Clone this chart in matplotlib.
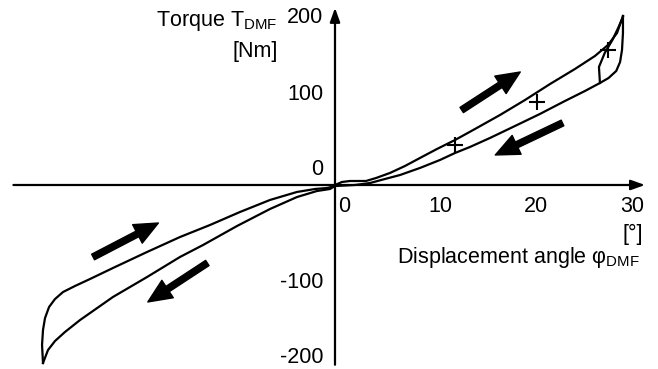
import numpy as np
import matplotlib
matplotlib.use("Agg")
import matplotlib.pyplot as plt

plt.rcParams['font.family'] = ['Liberation Sans', 'DejaVu Sans']
plt.rcParams['mathtext.fontset'] = 'custom'
plt.rcParams['mathtext.rm'] = 'Liberation Sans'

# displacement angle [deg] / torque [Nm]
pos_load_x = [0.0, 0.73, 1.56, 3.23, 4.27, 5.73, 7.29, 8.85, 10.63, 12.5, 14.58, 17.19,
              19.79, 22.4, 25.0, 27.08, 28.44, 29.38, 30.0]
pos_load_y = [0.0, 3.5, 4.65, 4.65, 8.1, 14.0, 22.1, 31.4, 41.9, 52.3, 65.1, 81.4,
              98.8, 117.4, 134.9, 150.0, 162.8, 176.7, 196.5]

pos_unload_x = [30.0, 30.0, 29.9, 29.7, 29.3, 28.5, 27.6, 26.04, 23.96, 21.35, 18.75, 16.15,
                14.06, 12.5, 10.94, 8.85, 6.77, 5.21, 3.65, 2.08, 0.0]
pos_unload_y = [196.5, 176.7, 157.0, 143.0, 132.6, 124.4, 118.6, 109.3, 97.7, 82.6, 68.6, 54.7,
                44.2, 37.2, 29.1, 19.8, 11.6, 7.0, 2.3, 0.0, -1.2]

pos_inner_x = [27.6, 27.5, 28.1, 28.9, 29.5, 30.0]
pos_inner_y = [118.6, 137.2, 153.5, 168.6, 182.6, 195.3]

neg_unload_x = [0.0, -0.52, -1.88, -3.96, -6.77, -10.21, -13.75, -16.15, -19.58, -23.13,
                -26.56, -28.13, -29.17, -29.9, -30.42]
neg_unload_y = [-1.2, -4.65, -7.0, -14.0, -27.9, -47.7, -69.8, -83.7, -107.0, -130.2,
                -157.0, -170.9, -181.4, -191.9, -207.0]

neg_load_x = [-30.42, -30.52, -30.42, -30.21, -29.79, -29.17, -28.33, -27.08, -25.52, -23.13,
              -19.58, -16.15, -13.02, -9.9, -6.77, -3.96, -2.08, -0.83, 0.0]
neg_load_y = [-207.0, -186.0, -168.6, -154.7, -141.9, -132.6, -124.4, -117.4, -109.3, -96.5,
              -77.9, -60.5, -46.5, -31.4, -17.4, -8.1, -4.65, -3.5, -1.2]

marks_x = [12.5, 21.0, 28.4]
marks_y = [46.5, 96.5, 157.0]

# direction arrows: (tail, tip)
dir_arrows = [((13.2, 87.2), (19.3, 131.4)),
              ((23.7, 72.1), (16.7, 34.9)),
              ((-25.2, -83.7), (-18.4, -44.2)),
              ((-13.3, -90.7), (-19.5, -136.0))]

x_ticks = [0, 10, 20, 30]
y_ticks = [200, 100, 0, -100, -200]

fig = plt.figure(figsize=(6.58, 3.69), dpi=100)
ax = fig.add_axes([0, 0, 1, 1])
ax.set_xlim(-34.9, 33.65)
ax.set_ylim(-213.95, 215.1)
ax.axis('off')

lw = 1.6
for xs, ys in [(pos_load_x, pos_load_y), (pos_unload_x, pos_unload_y),
               (pos_inner_x, pos_inner_y), (neg_unload_x, neg_unload_y),
               (neg_load_x, neg_load_y)]:
    ax.plot(xs, ys, color='k', lw=lw, solid_joinstyle='round')

ax.plot(marks_x, marks_y, '+', color='k', ms=11, mew=1.5)

# coordinate axes with arrow heads
ax_arrow = dict(arrowstyle='-|>,head_length=0.7,head_width=0.25', mutation_scale=12,
                color='k', lw=1.6, shrinkA=0, shrinkB=0)
ax.annotate('', xy=(32.3, 0), xytext=(-33.5, 0), arrowprops=ax_arrow)
ax.annotate('', xy=(0, 206), xytext=(0, -209), arrowprops=ax_arrow)

for tail, tip in dir_arrows:
    ax.annotate('', xy=tip, xytext=tail,
                arrowprops=dict(arrowstyle='simple,head_length=1.7,head_width=1.5,tail_width=0.45',
                                mutation_scale=10, color='k', shrinkA=0, shrinkB=0))

fs = 15.5
for t in x_ticks:
    ax.annotate(str(t), xy=(t, 0), xytext=(6.5, -15.8), textcoords='offset points',
                ha='center', va='center', fontsize=fs)
y_off = {200: -3, 100: 3, 0: 11, -100: -8, -200: 0}
for t in y_ticks:
    ax.annotate(str(t), xy=(0, t), xytext=(-8.6, y_off[t]), textcoords='offset points',
                ha='right', va='center', fontsize=fs)

W, H = 658, 369
fig.text(277 / W, 1 - 26 / H, r'Torque T$_{\mathrm{DMF}}$', ha='right', va='baseline', fontsize=fs)
fig.text(278 / W, 1 - 57 / H, '[Nm]', ha='right', va='baseline', fontsize=fs)
fig.text(643 / W, 1 - 240 / H, '[°]', ha='right', va='baseline', fontsize=fs)
fig.text(640 / W, 1 - 263 / H, r'Displacement angle φ$_{\mathrm{DMF}}$', ha='right', va='baseline', fontsize=fs)

fig.savefig('out.png', dpi=100, facecolor='white')
